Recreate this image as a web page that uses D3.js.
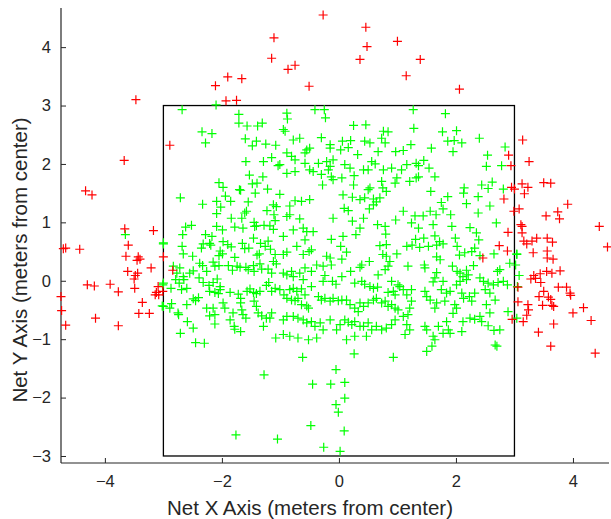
<!DOCTYPE html>
<html>
  <head>
    <meta charset="utf-8">
    <style>
    body {
      margin: 0px;
      background: white;
    }
    text {
      font-family: "Liberation Sans", Arial, Helvetica, sans-serif;
      fill: #262626;
    }
    </style>
  </head>
  <body>
    <div id="elm"></div>

    <script src="https://cdn.jsdelivr.net/npm/d3@7"></script>
    <script>
    'use strict';

    // axis setup
    var xTicks = [-4, -2, 0, 2, 4];
    var yTicks = [-3, -2, -1, 0, 1, 2, 3, 4];
    var xDomain = [-4.75, 4.65];
    var yDomain = [-3.12, 4.67];
    var netBox = [-3, 3, -3, 3]; // x0, x1, y0, y1

    // points that missed the net area (red)
    var redPoints = [
      [-2.11,3.34],[-1.90,3.49],[-1.66,3.46],[-1.93,3.08],[-1.75,3.09],[-1.11,4.16],[-1.15,3.81],
      [-0.87,3.62],[-0.75,3.69],[-0.51,3.33],[-0.27,4.55],[0.46,4.34],[0.48,4.01],[0.36,3.79],
      [1.00,4.10],[1.15,3.51],[1.39,3.79],[2.06,3.28],[-3.47,3.10],[-2.89,2.32],[-3.67,2.06],
      [-4.33,1.54],[-4.22,1.47],[-3.66,0.89],[-3.17,0.86],[-3.60,0.61],[-4.71,0.55],[-4.67,0.56],
      [-4.43,0.54],[-3.64,0.42],[-3.43,0.41],[-3.40,0.37],[-3.45,0.35],[-3.00,0.41],[-3.61,0.16],
      [-3.21,0.22],[-3.44,0.13],[-3.48,0.09],[-3.50,0.03],[-2.84,0.18],[-3.49,-0.13],[-4.30,-0.07],
      [-4.18,-0.09],[-3.91,-0.06],[-3.77,-0.19],[-3.09,-0.10],[-3.12,-0.20],[-3.08,-0.24],[-3.01,-0.18],
      [-3.14,-0.24],[-4.75,-0.27],[-4.74,-0.51],[-4.67,-0.76],[-4.16,-0.64],[-3.36,-0.37],[-3.42,-0.56],
      [-3.24,-0.56],[-3.77,-0.77],
      [3.14,2.41],[2.90,2.15],[2.94,1.97],[3.25,2.04],[3.13,1.66],[3.23,1.60],[3.17,1.49],[3.50,1.68],
      [3.62,1.67],[2.95,1.60],[3.00,1.57],[2.82,1.40],[3.91,1.31],[3.08,1.23],[2.99,1.19],[3.54,1.11],
      [3.74,1.18],[3.77,1.06],[3.11,0.96],[3.13,0.93],[2.89,0.83],[3.13,0.82],[4.45,0.93],[4.59,0.58],
      [3.16,0.68],[3.21,0.63],[3.30,0.68],[3.38,0.73],[3.56,0.73],[3.65,0.66],[2.74,0.60],[2.88,0.51],
      [3.32,0.48],[3.56,0.51],[3.56,0.39],[3.66,0.37],[2.46,0.39],[3.78,0.17],[3.55,0.16],[3.64,0.13],
      [3.44,0.12],[3.33,0.09],[3.36,0.04],[3.28,0.03],[3.45,-0.03],[3.06,-0.11],[3.75,-0.11],[3.89,-0.11],
      [3.50,-0.18],[3.95,-0.21],[3.96,-0.25],[3.42,-0.27],[3.58,-0.28],[3.62,-0.32],[3.06,-0.36],[3.23,-0.41],
      [3.24,-0.50],[3.21,-0.59],[3.48,-0.42],[3.64,-0.42],[3.67,-0.44],[4.18,-0.46],[4.00,-0.55],[4.31,-0.68],
      [2.96,-0.66],[3.15,-0.70],[3.67,-0.74],[3.41,-0.88],[3.62,-1.12],[4.38,-1.24]
    ];

    // points inside the net area (green), left third
    var greenLeft = [
      [-2.68,2.93],[-2.10,3.01],[-1.71,2.85],[-1.71,2.70],[-1.57,2.65],[-1.39,2.65],[-1.31,2.70],[-2.34,2.55],
      [-2.17,2.52],[-2.28,2.36],[-1.60,2.43],[-1.41,2.39],[-1.48,2.31],[-1.25,2.34],[-1.08,2.32],[-1.59,2.04],
      [-1.29,2.04],[-1.15,2.11],[-1.04,1.97],[-1.53,1.81],[-1.30,1.78],[-1.48,1.66],[-1.40,1.67],[-2.05,1.68],
      [-1.98,1.60],[-1.70,1.56],[-1.68,1.55],[-1.22,1.57],[-1.43,1.50],[-2.71,1.42],[-1.94,1.45],[-2.09,1.36],
      [-2.02,1.26],[-1.85,1.36],[-2.33,1.31],[-1.55,1.35],[-2.09,1.15],[-1.61,1.16],[-1.58,1.19],[-1.66,1.07],
      [-1.84,1.07],[-1.23,1.20],[-1.12,1.30],[-1.07,1.27],[-1.11,1.13],[-2.62,0.92],[-2.52,0.95],[-2.09,0.93],
      [-1.99,0.87],[-1.78,0.92],[-1.64,0.90],[-1.45,1.00],[-1.41,0.94],[-1.44,0.93],[-1.28,0.95],[-1.18,0.94],
      [-1.12,0.88],[-1.09,1.03],[-2.67,0.79],[-2.28,0.79],[-2.17,0.76],[-3.00,0.63],[-2.68,0.59],[-2.66,0.46],
      [-2.32,0.63],[-2.35,0.56],[-2.21,0.64],[-2.19,0.61],[-1.98,0.67],[-1.90,0.62],[-1.84,0.58],[-2.03,0.51],
      [-1.65,0.64],[-1.61,0.55],[-1.54,0.56],[-1.46,0.73],[-1.34,0.64],[-1.26,0.59],[-1.36,0.46],[-1.21,0.68],
      [-1.17,0.54],[-1.09,0.45],[-2.50,0.42],[-1.40,0.44],[-2.05,0.43],[-1.99,0.46],[-1.78,0.40],[-2.83,0.25],
      [-2.72,0.22],[-2.38,0.30],[-2.33,0.26],[-2.26,0.16],[-2.77,0.13],[-2.66,0.07],[-2.55,0.13],[-2.49,0.17],
      [-2.15,0.32],[-2.12,0.25],[-2.05,0.26],[-1.89,0.26],[-1.82,0.18],[-1.74,0.25],[-1.69,0.23],[-1.59,0.23],
      [-1.55,0.19],[-1.46,0.26],[-1.45,0.16],[-1.35,0.29],[-1.32,0.20],[-1.21,0.20],[-1.15,0.13],[-1.12,0.33],
      [-1.07,0.29],[-3.00,-0.04],[-2.87,-0.13],[-2.79,0.02],[-2.73,-0.04],[-2.65,0.02],[-2.60,-0.13],[-2.69,-0.15],
      [-2.39,0.05],[-2.32,-0.03],[-2.22,-0.08],[-2.15,-0.03],[-2.08,0.03],[-2.03,-0.10],[-2.21,-0.18],[-2.12,-0.20],
      [-2.06,-0.22],[-2.03,-0.15],[-1.86,-0.20],[-1.72,-0.23],[-1.68,-0.30],[-1.57,-0.18],[-1.52,-0.14],[-1.46,-0.20],
      [-1.41,-0.22],[-1.35,-0.18],[-1.24,-0.08],[-1.20,-0.03],[-1.09,-0.13],[-1.15,-0.18],[-3.00,-0.44],[-2.86,-0.39],
      [-2.89,-0.47],[-2.60,-0.41],[-2.74,-0.58],[-2.75,-0.55],[-2.49,-0.31],[-2.45,-0.34],[-2.40,-0.29],[-2.26,-0.47],
      [-2.21,-0.60],[-2.12,-0.58],[-2.15,-0.47],[-1.98,-0.38],[-1.95,-0.47],[-1.81,-0.55],[-1.86,-0.67],[-1.68,-0.38],
      [-1.66,-0.50],[-1.64,-0.58],[-1.59,-0.64],[-1.45,-0.35],[-1.41,-0.44],[-1.38,-0.55],[-1.32,-0.60],[-1.24,-0.64],
      [-1.18,-0.64],[-1.15,-0.55],[-2.59,-0.70],[-2.49,-0.81],[-2.12,-0.74],[-1.79,-0.78],[-1.78,-0.83],[-1.68,-0.87],
      [-1.29,-0.78],[-2.71,-0.90],[-2.45,-1.06],[-2.30,-1.07],[-1.08,-0.98],[-1.28,-1.61],[-1.76,-2.64],[-1.05,-2.71],
      [-3.65,0.79],[-3.00,0.65],[-3.01,-0.07],[-3.02,-0.43]
    ];

    // green, middle third
    var greenMid = [
      [-0.41,2.93],[-0.89,2.87],[-0.88,2.77],[-0.25,2.93],[-0.23,2.79],[-0.95,2.59],[-0.92,2.56],[0.25,2.66],
      [0.46,2.67],[-0.30,2.45],[-0.78,2.41],[-0.67,2.44],[-0.15,2.33],[-0.15,2.27],[0.06,2.39],[0.20,2.40],
      [0.03,2.24],[0.16,2.28],[0.44,2.39],[0.53,2.36],[0.73,2.44],[0.79,2.36],[0.84,2.55],[0.76,2.56],
      [-0.55,2.24],[-0.50,2.27],[-0.58,2.19],[-0.89,2.19],[-0.81,2.13],[-0.75,2.07],[0.32,2.16],[0.67,2.21],
      [0.97,2.21],[-1.01,1.99],[-0.89,1.84],[-0.75,1.87],[-0.58,2.01],[-0.50,1.90],[-0.44,1.87],[-0.35,2.01],
      [-0.21,2.04],[-0.15,1.96],[-0.18,1.90],[-0.10,2.07],[-0.30,1.82],[-0.13,1.78],[-0.10,1.73],[0.05,1.76],
      [0.10,1.99],[0.19,1.93],[0.26,1.80],[0.42,1.90],[0.50,1.90],[0.56,2.04],[0.62,2.00],[0.76,1.90],
      [0.90,1.93],[0.99,1.76],[0.96,1.67],[0.53,1.59],[0.50,1.56],[0.73,1.70],[0.75,1.59],[0.81,1.53],
      [-0.28,1.64],[0.25,1.64],[0.07,1.47],[0.23,1.43],[0.36,1.39],[0.44,1.42],[0.59,1.40],[0.64,1.35],
      [0.70,1.42],[-0.75,1.37],[-0.64,1.36],[-0.50,1.39],[-0.84,1.28],[0.09,1.24],[0.16,1.20],[0.52,1.23],
      [0.59,1.30],[-0.84,1.13],[-0.89,1.10],[-0.67,1.06],[-0.10,1.07],[0.23,1.02],[0.42,1.07],[0.36,0.90],
      [0.29,0.79],[0.66,0.96],[0.79,0.93],[0.97,1.04],[-0.95,0.76],[-0.78,0.87],[-0.61,0.90],[-0.55,0.84],
      [-0.44,0.84],[-0.58,0.70],[-0.13,0.71],[0.07,0.76],[0.03,0.59],[0.13,0.49],[0.05,0.37],[0.70,0.60],
      [0.81,0.62],[0.80,0.80],[0.75,0.45],[-0.72,0.59],[-0.89,0.49],[-0.95,0.45],[-0.61,0.45],[-0.51,0.50],
      [-0.47,0.53],[0.52,0.33],[0.39,0.27],[0.36,0.23],[0.20,0.16],[0.81,0.42],[0.87,0.33],[0.84,0.25],
      [0.79,0.19],[0.67,0.10],[0.99,0.46],[-0.58,0.22],[-0.47,0.16],[-0.38,0.27],[-0.27,0.25],[-0.13,0.27],
      [-0.95,0.13],[-0.81,0.16],[-0.78,0.07],[-0.89,0.10],[-0.24,0.09],[-0.27,-0.01],[-0.11,-0.01],[-0.05,-0.06],
      [0.05,0.07],[0.27,-0.04],[0.39,-0.01],[0.44,-0.06],[0.53,-0.10],[0.59,-0.13],[0.66,-0.11],[0.90,-0.01],
      [1.01,-0.07],[0.84,-0.20],[0.96,-0.24],[0.93,-0.18],[-1.01,-0.15],[-0.94,-0.24],[-0.84,-0.15],[-0.78,-0.13],
      [-0.72,-0.18],[-0.64,-0.14],[-0.58,-0.24],[-0.47,-0.10],[-0.89,-0.30],[-0.81,-0.33],[-0.75,-0.34],[-0.70,-0.30],
      [-0.64,-0.41],[-0.55,-0.43],[-0.52,-0.47],[-0.35,-0.27],[-0.30,-0.33],[-0.24,-0.30],[-0.15,-0.35],[-0.10,-0.30],
      [-0.01,-0.34],[0.05,-0.33],[0.13,-0.33],[0.19,-0.41],[0.27,-0.47],[0.33,-0.53],[0.36,-0.38],[0.42,-0.44],
      [0.50,-0.38],[0.59,-0.33],[0.64,-0.30],[0.73,-0.38],[0.79,-0.35],[0.84,-0.44],[0.90,-0.41],[0.96,-0.47],
      [1.01,-0.50],[-0.95,-0.67],[-0.89,-0.61],[-0.78,-0.61],[-0.70,-0.64],[-0.61,-0.67],[-0.55,-0.72],[-0.47,-0.70],
      [-0.41,-0.78],[-0.32,-0.72],[-0.27,-0.84],[-0.15,-0.67],[-0.04,-0.84],[0.02,-0.75],[0.10,-0.67],[0.16,-0.71],
      [0.22,-0.75],[0.27,-0.70],[0.36,-0.78],[0.42,-0.78],[0.50,-0.72],[0.56,-0.84],[0.64,-0.78],[0.73,-0.84],
      [0.81,-0.81],[0.90,-0.75],[0.96,-0.67],[-0.95,-0.92],[-0.84,-0.95],[-0.70,-0.98],[-0.52,-1.01],[-0.38,-0.98],
      [0.13,-1.01],[0.27,-0.95],[0.47,-0.95],[-0.62,-1.31],[0.26,-1.25],[0.93,-1.31],[-0.05,-1.52],[-0.45,-1.77],
      [-0.14,-1.77],[0.10,-1.74],[0.10,-2.01],[-0.05,-2.12],[-0.01,-2.25],[-0.48,-2.48],[0.09,-2.57],[-0.26,-2.85],
      [0.02,-2.92],[-1.01,1.48],[-0.21,0.42],[-0.15,0.39],[-0.67,0.13],[-0.61,0.02]
    ];

    // green, right third
    var greenRight = [
      [1.27,2.93],[1.82,2.86],[1.28,2.61],[1.77,2.55],[2.01,2.57],[1.86,2.39],[1.97,2.40],[2.10,2.36],
      [1.95,2.21],[2.40,2.44],[1.23,2.33],[1.10,2.23],[1.58,2.27],[2.84,2.29],[2.54,2.15],[2.52,1.96],
      [2.78,1.97],[1.32,2.01],[1.36,1.97],[1.45,2.06],[1.16,1.99],[1.07,1.90],[1.54,1.93],[1.32,1.76],
      [1.36,1.78],[1.21,1.70],[1.64,1.78],[1.57,1.53],[2.14,1.59],[2.13,1.50],[2.44,1.64],[2.55,1.58],
      [2.62,1.69],[1.86,1.44],[1.75,1.34],[2.38,1.44],[2.81,1.57],[2.18,1.32],[2.58,1.28],[2.69,0.99],
      [1.78,1.23],[1.91,1.13],[2.38,1.16],[1.10,1.19],[1.30,1.11],[1.44,1.11],[1.56,1.19],[1.66,1.13],
      [1.24,0.99],[1.36,0.90],[1.61,0.96],[1.93,0.93],[2.24,0.91],[2.35,0.82],[2.39,0.70],[1.31,0.71],
      [1.45,0.73],[1.64,0.77],[1.72,0.67],[1.78,0.63],[1.16,0.59],[1.25,0.61],[1.38,0.57],[1.53,0.59],
      [1.67,0.61],[1.99,0.73],[2.02,0.59],[2.06,0.44],[2.15,0.48],[2.27,0.50],[2.32,0.56],[2.41,0.43],
      [1.67,0.41],[1.73,0.36],[1.94,0.25],[2.30,0.26],[2.65,0.46],[3.04,0.46],[2.92,0.30],[2.75,0.19],
      [2.71,0.16],[2.81,-0.01],[2.88,-0.07],[1.18,0.25],[1.46,0.27],[1.47,0.22],[1.67,0.14],[1.64,0.05],
      [1.78,-0.01],[1.61,-0.02],[2.02,0.16],[2.07,0.13],[2.18,0.18],[2.21,0.10],[2.12,0.07],[2.07,-0.01],
      [2.01,-0.07],[2.18,0.02],[2.41,0.05],[2.47,-0.01],[2.55,-0.04],[2.64,-0.07],[2.72,-0.03],[1.04,-0.10],
      [1.10,-0.15],[1.24,-0.15],[1.16,-0.24],[1.24,-0.35],[1.21,-0.47],[1.10,-0.61],[1.18,-0.58],[1.47,-0.18],
      [1.50,-0.27],[1.56,-0.33],[1.64,-0.47],[1.67,-0.38],[1.75,-0.15],[1.84,-0.21],[1.90,-0.18],[1.81,-0.35],
      [1.98,-0.41],[1.95,-0.56],[2.01,-0.47],[2.10,-0.21],[2.13,-0.30],[2.23,-0.27],[2.27,-0.35],[2.32,-0.21],
      [2.50,-0.15],[2.58,-0.21],[2.67,-0.33],[2.52,-0.41],[2.58,-0.55],[1.16,-0.75],[1.21,-0.84],[1.13,-0.92],
      [1.47,-0.78],[1.50,-0.84],[1.70,-0.78],[1.84,-0.70],[1.87,-0.84],[1.78,-0.90],[2.12,-0.70],[2.10,-0.87],
      [1.90,-0.90],[2.24,-0.64],[2.32,-0.66],[2.41,-0.61],[2.44,-0.70],[2.55,-0.77],[2.65,-0.85],[2.75,-0.84],
      [1.61,-0.95],[1.64,-1.01],[1.59,-1.12],[1.50,-1.21],[2.67,-1.10],[2.70,-1.12],[2.89,-0.53],[3.04,-0.64],
      [3.04,0.45],[3.02,0.27],[3.08,0.09],[3.05,-0.10]
    ];

    var width = 611, height = 519;
    var plot = { left: 61, right: 611, top: 8, bottom: 463 };
    var axisColor = '#262626';

    var svg = d3.select('#elm').append('svg')
      .attr('width', width)
      .attr('height', height);

    var x = d3.scaleLinear().domain(xDomain).range([plot.left, plot.right]);
    var y = d3.scaleLinear().domain(yDomain).range([plot.bottom, plot.top]);

    // axes (MATLAB style: ticks inward, left + bottom only)
    var xAxis = d3.axisBottom(x).tickValues(xTicks).tickSize(-5).tickPadding(12).tickFormat(d3.format('d'));
    var yAxis = d3.axisLeft(y).tickValues(yTicks).tickSize(-5).tickPadding(10).tickFormat(d3.format('d'));

    var gx = svg.append('g')
      .attr('transform', 'translate(0,' + plot.bottom + ')')
      .call(xAxis);
    var gy = svg.append('g')
      .attr('transform', 'translate(' + plot.left + ',0)')
      .call(yAxis);

    [gx, gy].forEach(function(g) {
      g.select('.domain').remove();
      g.selectAll('.tick line').attr('stroke', axisColor).attr('stroke-width', 1);
      g.selectAll('.tick text')
        .attr('fill', axisColor)
        .style('font-size', '16.5px')
        .style('font-family', '"Liberation Sans", Arial, sans-serif');
    });
    gx.selectAll('.tick text').attr('dy', '0.71em');

    // axis lines
    svg.append('line')
      .attr('x1', plot.left).attr('x2', plot.left)
      .attr('y1', plot.top).attr('y2', plot.bottom)
      .attr('stroke', axisColor).attr('stroke-width', 1.2);
    svg.append('line')
      .attr('x1', plot.left).attr('x2', plot.right - 2)
      .attr('y1', plot.bottom).attr('y2', plot.bottom)
      .attr('stroke', axisColor).attr('stroke-width', 1.2);

    // net rectangle
    svg.append('rect')
      .attr('x', x(netBox[0]))
      .attr('y', y(netBox[3]))
      .attr('width', x(netBox[1]) - x(netBox[0]))
      .attr('height', y(netBox[2]) - y(netBox[3]))
      .attr('fill', 'none')
      .attr('stroke', '#000')
      .attr('stroke-width', 1.3);

    var plus = 'M-4.5,0H4.5M0,-4.5V4.5';

    function drawPts(pts, color) {
      svg.append('g').selectAll('path')
        .data(pts)
        .enter().append('path')
        .attr('d', plus)
        .attr('transform', function(d) { return 'translate(' + x(d[0]) + ',' + y(d[1]) + ')'; })
        .attr('stroke', color)
        .attr('stroke-width', 1.2)
        .attr('fill', 'none');
    }

    drawPts(greenLeft.concat(greenMid, greenRight), '#00ff00');
    drawPts(redPoints, '#ff0000');

    // axis titles
    svg.append('text')
      .attr('x', 310).attr('y', 515)
      .attr('text-anchor', 'middle')
      .style('font-size', '20.5px')
      .text('Net X Axis (meters from center)');

    svg.append('text')
      .attr('transform', 'translate(27,260) rotate(-90)')
      .attr('text-anchor', 'middle')
      .style('font-size', '20.5px')
      .text('Net Y Axis (meters from center)');
    </script>
  </body>
</html>
